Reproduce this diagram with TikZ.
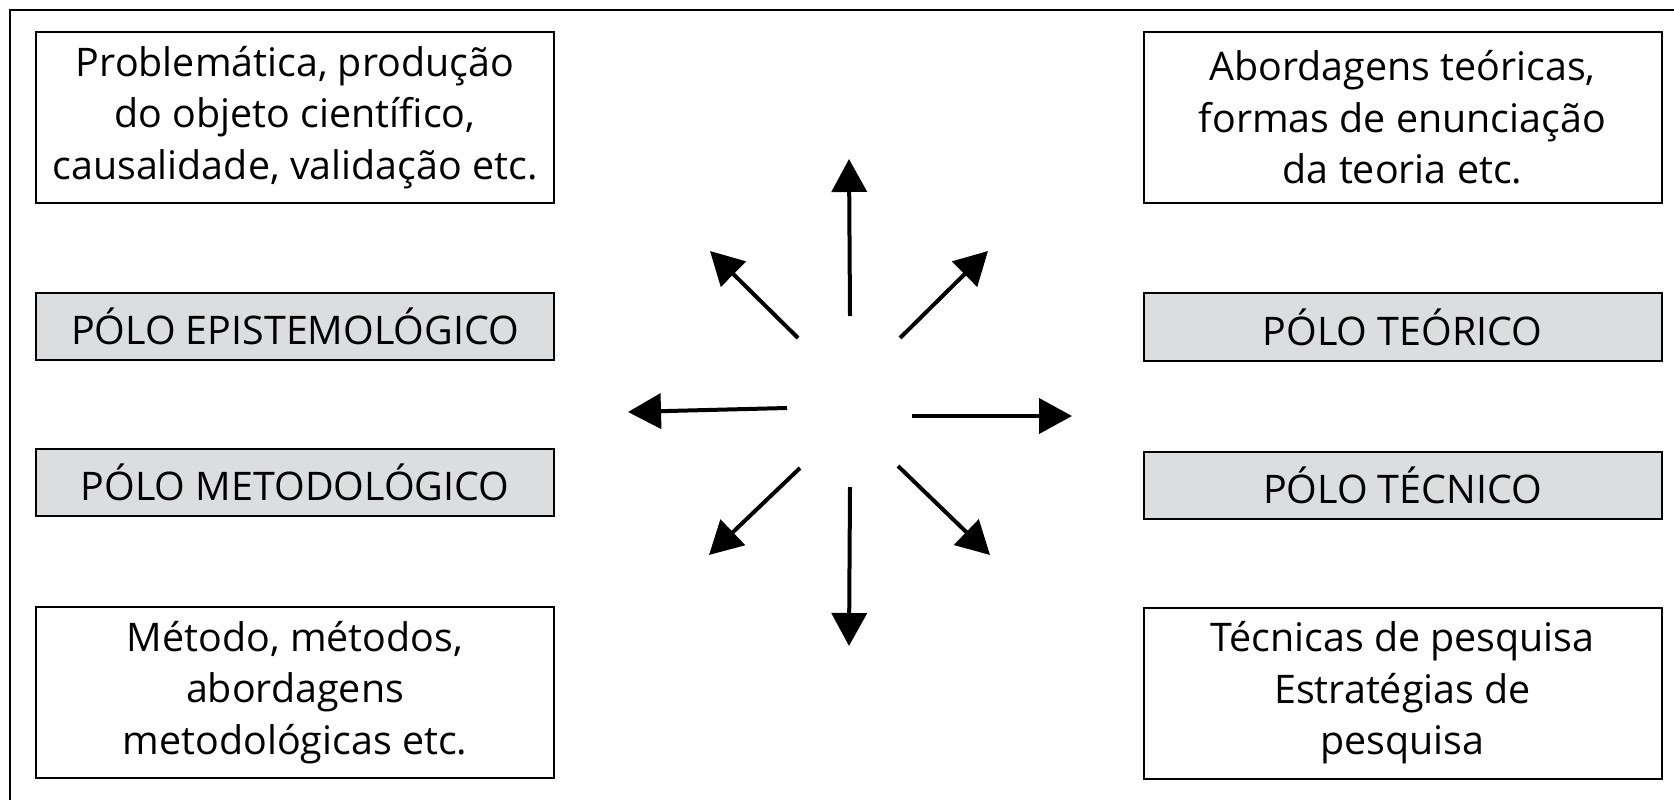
\documentclass[tikz,border=0pt]{standalone}
\usepackage{fontspec}
\setmainfont{Open Sans}
\usepackage{tikz}
\usetikzlibrary{arrows.meta}

\definecolor{polegray}{RGB}{220,221,222}

\tikzset{
    textbox/.style={draw, line width=1pt, minimum width=259pt, minimum height=85.5pt,
        inner sep=0pt, align=center, font=\fontsize{19.7}{25.75}\selectfont},
    polebox/.style={textbox, fill=polegray, minimum height=33.5pt},
    arr/.style={line width=2pt, -{Triangle[length=16.5pt, width=17.5pt]}}
}

\begin{document}
\begin{tikzpicture}[x=50pt, y=50pt]
        \clip (0, 0) rectangle (16.74, 7.99);
        \draw[line width=1.1pt] (0.10, -0.5) -- (0.10, 7.89) -- (20, 7.89);

        % left column
        \node[textbox] (problem) at (2.95, 6.815) {Problemática, produção\\do objeto científico,\\causalidade, validação etc.};
        \node[polebox] (epist) at (2.95, 4.725) {PÓLO EPISTEMOLÓGICO};
        \node[polebox] (metodo) at (2.95, 3.165) {PÓLO METODOLÓGICO};
        \node[textbox] (metodos) at (2.95, 1.065) {Método, métodos,\\abordagens\\metodológicas etc.};

        % right column
        \node[textbox] (abord) at (14.025, 6.815) {Abordagens teóricas,\\formas de enunciação\\da teoria etc.};
        \node[polebox] (teorico) at (14.025, 4.72) {PÓLO TEÓRICO};
        \node[polebox] (tecnico) at (14.025, 3.14) {PÓLO TÉCNICO};
        \node[textbox] (tecnicas) at (14.025, 1.06) {Técnicas de pesquisa\\Estratégias de\\pesquisa};

        % arrows out of the centre
        \foreach \tx/\ty/\hx/\hy in {8.50/4.83/8.49/6.40, 7.98/4.61/7.10/5.48,
                9.00/4.61/9.88/5.48, 7.87/3.91/6.28/3.87,
                9.12/3.83/10.72/3.83, 8.00/3.31/7.09/2.44,
                8.50/3.12/8.49/1.53, 8.98/3.33/9.90/2.44}
            \draw[arr] (\tx, \ty) -- (\hx, \hy);
    \end{tikzpicture}
\end{document}
